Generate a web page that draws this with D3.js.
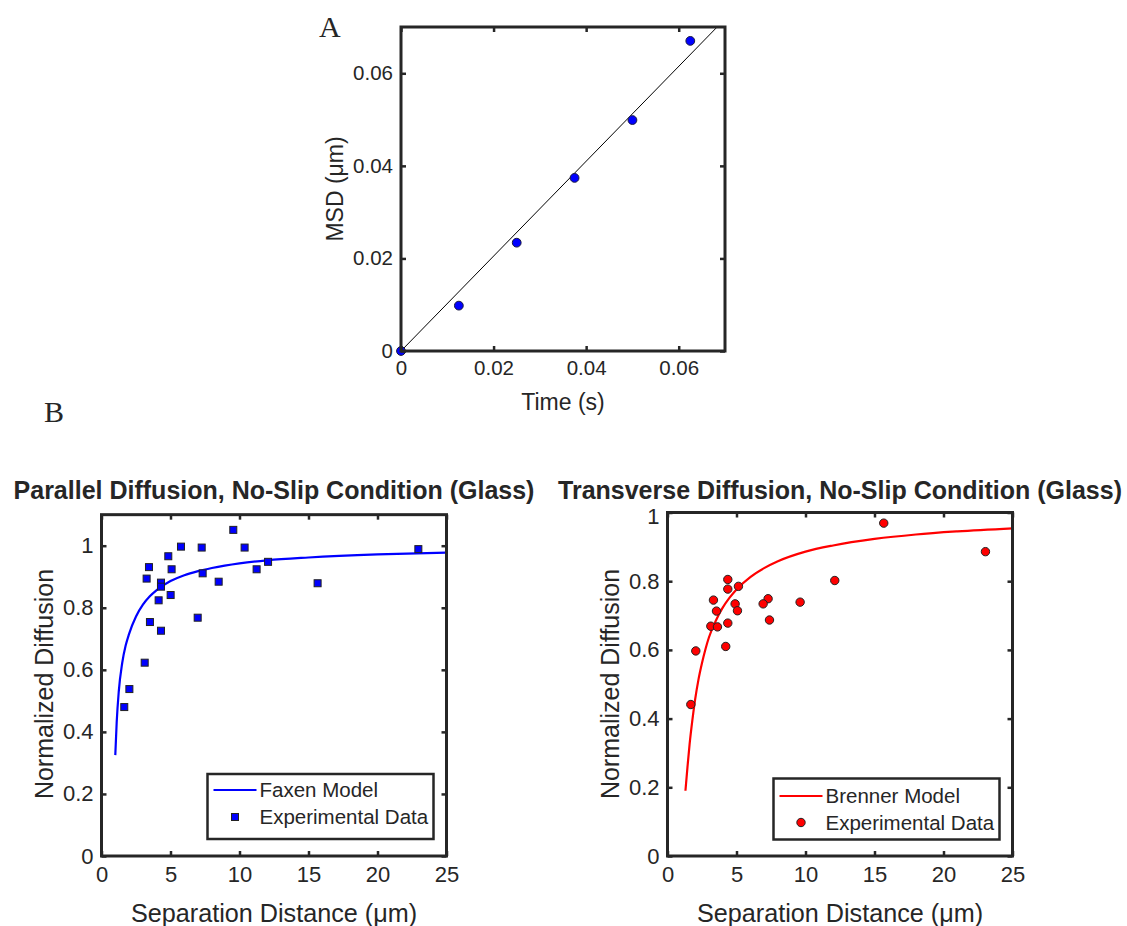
<!DOCTYPE html>
<html>
<head>
<meta charset="utf-8">
<script src="https://cdn.jsdelivr.net/npm/d3@7"></script>
<style>
  html, body { margin: 0; padding: 0; background: #fff; }
  svg { display: block; }
  text { font-family: "Liberation Sans", Arial, Helvetica, sans-serif; fill: #262626; }
</style>
</head>
<body>
<svg id="fig" width="1127" height="926"></svg>
<script>
// ---------------- Data ----------------
// Panel A: mean squared displacement vs time
const msdTime  = [0, 0.0125, 0.025, 0.0375, 0.05, 0.0625];
const msdValue = [0, 0.0098, 0.0234, 0.0374, 0.0499, 0.0670];
const fitTime  = [0, 0.0683];
const fitValue = [0, 0.0700];
const aTicks   = [0, 0.02, 0.04, 0.06];
const aTickLabels = ["0", "0.02", "0.04", "0.06"];

// Panel B left: parallel diffusion
const parallelDist = [9.55, 5.76, 7.26, 10.37, 22.96, 4.84, 3.44, 5.08, 11.24, 12.07, 3.27, 7.33,
                      8.49, 4.31, 4.31, 15.66, 5.01, 4.14, 6.97, 3.51, 4.31, 3.13, 2.02, 1.65];
const parallelDiff = [1.051, 0.997, 0.994, 0.994, 0.989, 0.966, 0.931, 0.924, 0.924, 0.948, 0.894, 0.911,
                      0.884, 0.881, 0.868, 0.879, 0.841, 0.824, 0.768, 0.754, 0.726, 0.623, 0.538, 0.480];
const faxenDist = [1.0, 1.1, 1.25, 1.5, 1.75, 2.0, 2.5, 3.0, 3.5, 4.0, 5.0, 6.0, 7.0, 8.0, 10.0, 12.0, 15.0, 20.0, 25.0];
const faxenDiff = [0.325, 0.43, 0.53, 0.622, 0.678, 0.716, 0.772, 0.810, 0.837, 0.857, 0.886, 0.905, 0.918, 0.928,
                   0.943, 0.953, 0.962, 0.972, 0.978];

// Panel B right: transverse diffusion
const transverseDist = [15.67, 23.04, 12.12, 4.37, 5.14, 4.37, 3.33, 7.29, 6.93, 9.61,
                        4.90, 3.55, 5.07, 7.39, 4.37, 3.14, 3.62, 4.22, 2.05, 1.69];
const transverseDiff = [0.969, 0.886, 0.802, 0.805, 0.785, 0.777, 0.745, 0.749, 0.734, 0.739,
                        0.734, 0.713, 0.714, 0.687, 0.678, 0.669, 0.667, 0.610, 0.597, 0.441];
const brennerDist = [1.3, 1.45, 1.6, 1.8, 2.0, 2.25, 2.5, 2.75, 3.0, 3.5, 4.0, 4.5, 5.0, 6.0, 7.0, 8.0,
                     10.0, 12.0, 15.0, 18.0, 21.0, 25.0];
const brennerDiff = [0.19, 0.26, 0.325, 0.395, 0.455, 0.515, 0.562, 0.602, 0.636, 0.685, 0.723, 0.752, 0.776,
                     0.812, 0.838, 0.858, 0.886, 0.904, 0.923, 0.936, 0.945, 0.954];

const bXTicks = [0, 5, 10, 15, 20, 25];
const bXTickLabels = ["0", "5", "10", "15", "20", "25"];
const bYTicks = [0, 0.2, 0.4, 0.6, 0.8, 1];
const bYTickLabels = ["0", "0.2", "0.4", "0.6", "0.8", "1"];

// ---------------- Drawing ----------------
const svg = d3.select("#fig");
const AX = "#262626";

function drawAxesBox(g, x, y, xt, xtl, yt, ytl, tickFont, tickLen, padX, padY) {
  const [x0, x1] = x.range();
  const [y0, y1] = y.range(); // y0 bottom, y1 top
  const fmtX = d => xtl[xt.indexOf(d)];
  const fmtY = d => ytl[yt.indexOf(d)];
  const bottom = g.append("g").attr("transform", `translate(0,${y0})`)
    .call(d3.axisBottom(x).tickValues(xt).tickFormat(fmtX).tickSizeInner(-tickLen).tickSizeOuter(0).tickPadding(padX));
  const top = g.append("g").attr("transform", `translate(0,${y1})`)
    .call(d3.axisTop(x).tickValues(xt).tickFormat("").tickSizeInner(-tickLen).tickSizeOuter(0));
  const left = g.append("g").attr("class", "yleft").attr("transform", `translate(${x0},0)`)
    .call(d3.axisLeft(y).tickValues(yt).tickFormat(fmtY).tickSizeInner(-tickLen).tickSizeOuter(0).tickPadding(padY));
  const right = g.append("g").attr("transform", `translate(${x1},0)`)
    .call(d3.axisRight(y).tickValues(yt).tickFormat("").tickSizeInner(-tickLen).tickSizeOuter(0));
  [bottom, top, left, right].forEach(a => {
    a.select(".domain").remove();
    a.selectAll(".tick line").attr("stroke", AX).attr("stroke-width", 2.5);
    a.selectAll(".tick text").attr("fill", AX).style("font-size", tickFont + "px")
      .style("font-family", '"Liberation Sans", Arial, sans-serif');
  });
  g.append("rect").attr("x", x0).attr("y", y1).attr("width", x1 - x0).attr("height", y0 - y1)
    .attr("fill", "none").attr("stroke", AX).attr("stroke-width", 3);
  return left;
}

// ===== Panel A =====
const ax = d3.scaleLinear().domain([0, 0.07]).range([401, 725]);
const ay = d3.scaleLinear().domain([0, 0.07]).range([351, 27]);
const gA = svg.append("g");
gA.append("path")
  .datum(fitTime.map((t, i) => [t, fitValue[i]]))
  .attr("d", d3.line().x(d => ax(d[0])).y(d => ay(d[1])))
  .attr("fill", "none").attr("stroke", "#000").attr("stroke-width", 1);
gA.selectAll("circle.msd").data(msdTime.map((t, i) => [t, msdValue[i]]))
  .join("circle").attr("class", "msd")
  .attr("cx", d => ax(d[0])).attr("cy", d => ay(d[1])).attr("r", 4.4)
  .attr("fill", "#0000ff").attr("stroke", "#1a1a40").attr("stroke-width", 1);
drawAxesBox(gA, ax, ay, aTicks, aTickLabels, aTicks, aTickLabels, 20.5, 5, 9, 8);
gA.append("text").attr("x", 563).attr("y", 402).attr("dy", "0.35em").attr("text-anchor", "middle")
  .style("font-size", "23px").text("Time (s)");
gA.append("text").attr("transform", "translate(335,189) rotate(-90)").attr("dy", "0.35em")
  .attr("text-anchor", "middle").style("font-size", "23px").text("MSD (μm)");
svg.append("text").attr("x", 319).attr("y", 37).style("font-family", '"Liberation Serif", "Times New Roman", serif')
  .style("font-size", "30px").attr("fill", "#000").text("A");
svg.append("text").attr("x", 44).attr("y", 422).style("font-family", '"Liberation Serif", "Times New Roman", serif')
  .style("font-size", "30px").attr("fill", "#000").text("B");

// ===== Panel B: common builder =====
function panelB(opts) {
  const g = svg.append("g");
  const x = d3.scaleLinear().domain([0, 25]).range([opts.x0, opts.x0 + 345]);
  const y = d3.scaleLinear().domain([0, opts.ymax]).range([856, 856 - opts.pxPerUnit * opts.ymax]);
  const cid = "clip" + opts.id;
  svg.append("clipPath").attr("id", cid).append("rect")
    .attr("x", x.range()[0]).attr("y", y.range()[1]).attr("width", 345).attr("height", y.range()[0] - y.range()[1]);
  g.append("path")
    .datum(opts.curveX.map((v, i) => [v, opts.curveY[i]]))
    .attr("clip-path", `url(#${cid})`)
    .attr("d", d3.line().curve(d3.curveMonotoneX).x(d => x(d[0])).y(d => y(d[1])))
    .attr("fill", "none").attr("stroke", opts.color).attr("stroke-width", 2.2);
  const pts = opts.ptX.map((v, i) => [v, opts.ptY[i]]);
  if (opts.marker === "square") {
    g.selectAll("rect.pt").data(pts).join("rect").attr("class", "pt")
      .attr("x", d => x(d[0]) - 3.5).attr("y", d => y(d[1]) - 3.5).attr("width", 7).attr("height", 7)
      .attr("fill", opts.color).attr("stroke", "#222").attr("stroke-width", 1);
  } else {
    g.selectAll("circle.pt").data(pts).join("circle").attr("class", "pt")
      .attr("cx", d => x(d[0])).attr("cy", d => y(d[1])).attr("r", 4.2)
      .attr("fill", opts.color).attr("stroke", "#222").attr("stroke-width", 1);
  }
  const left = drawAxesBox(g, x, y, bXTicks, bXTickLabels, bYTicks, bYTickLabels, 22, 5, 10, 8);
  if (opts.topLabelShift) {
    // top tick label sits slightly below its tick, as in the original
    left.selectAll(".tick text").filter(d => d === opts.ymax).attr("y", opts.topLabelShift);
  }
  const cx = opts.x0 + 172.5;
  g.append("text").attr("x", cx).attr("y", 913).attr("dy", "0.35em").attr("text-anchor", "middle")
    .style("font-size", "25.2px").text("Separation Distance (μm)");
  g.append("text").attr("transform", `translate(${opts.x0 - 57},684) rotate(-90)`).attr("dy", "0.35em")
    .attr("text-anchor", "middle").style("font-size", "25px").text("Normalized Diffusion");
  g.append("text").attr("x", cx).attr("y", 490).attr("dy", "0.35em").attr("text-anchor", "middle")
    .style("font-size", "25px").style("font-weight", "bold").attr("fill", "#000").text(opts.title);
  // legend
  const L = opts.legend;
  g.append("rect").attr("x", L.x).attr("y", L.y).attr("width", L.w).attr("height", L.h)
    .attr("fill", "#fff").attr("stroke", AX).attr("stroke-width", 2.5);
  g.append("line").attr("x1", L.x + 6).attr("x2", L.x + 49).attr("y1", L.y + L.r1).attr("y2", L.y + L.r1)
    .attr("stroke", opts.color).attr("stroke-width", 2.2);
  if (opts.marker === "square") {
    g.append("rect").attr("x", L.x + 27.5 - 3.5).attr("y", L.y + L.r2 - 3.5).attr("width", 7).attr("height", 7)
      .attr("fill", opts.color).attr("stroke", "#222").attr("stroke-width", 1);
  } else {
    g.append("circle").attr("cx", L.x + 27.5).attr("cy", L.y + L.r2).attr("r", 4.2)
      .attr("fill", opts.color).attr("stroke", "#222").attr("stroke-width", 1);
  }
  g.append("text").attr("x", L.x + 52).attr("y", L.y + L.r1).attr("dy", "0.35em")
    .style("font-size", "20.5px").text(opts.names[0]);
  g.append("text").attr("x", L.x + 52).attr("y", L.y + L.r2).attr("dy", "0.35em")
    .style("font-size", "20.5px").text(opts.names[1]);
}

panelB({
  id: "L", x0: 101.5, ymax: 1.1, pxPerUnit: 310.3, color: "#0000ff", marker: "square",
  curveX: faxenDist, curveY: faxenDiff, ptX: parallelDist, ptY: parallelDiff,
  title: "Parallel Diffusion, No-Slip Condition (Glass)",
  names: ["Faxen Model", "Experimental Data"],
  legend: { x: 207.5, y: 774, w: 226, h: 65, r1: 16, r2: 43 }
});
panelB({
  id: "R", x0: 667.5, ymax: 1, pxPerUnit: 343.5, color: "#ff0000", marker: "circle", topLabelShift: 4,
  curveX: brennerDist, curveY: brennerDiff, ptX: transverseDist, ptY: transverseDiff,
  title: "Transverse Diffusion, No-Slip Condition (Glass)",
  names: ["Brenner Model", "Experimental Data"],
  legend: { x: 773.5, y: 778.5, w: 226, h: 61, r1: 17.5, r2: 44 }
});
</script>
</body>
</html>
